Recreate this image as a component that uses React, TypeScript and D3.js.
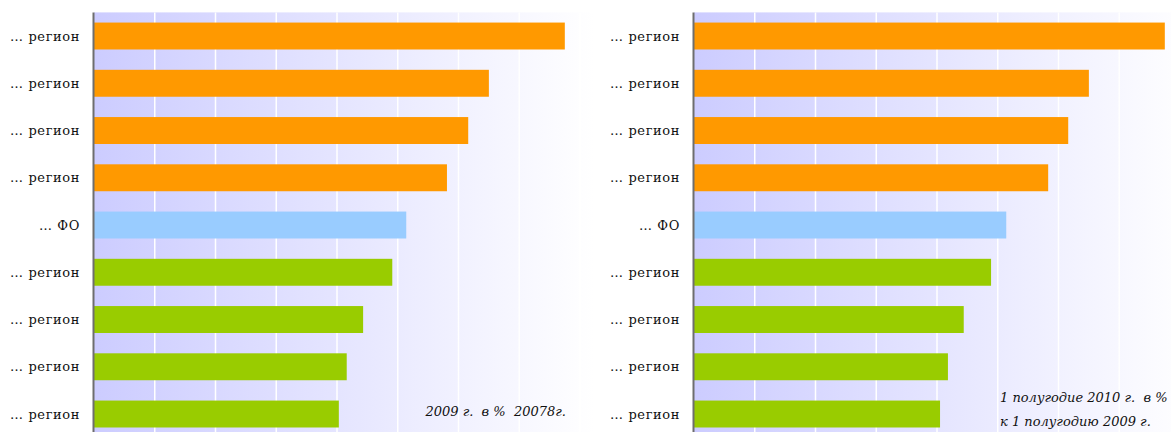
import React, { useRef, useEffect } from 'react';
import * as d3 from 'd3';

// categories (top to bottom)
const categories = [
    '… регион', '… регион', '… регион', '… регион', '… ФО',
    '… регион', '… регион', '… регион', '… регион',
];
const groups = ['top', 'top', 'top', 'top', 'fo', 'low', 'low', 'low', 'low'];

// values (arbitrary units, grid step = 10)
const valuesLeft = [77.5, 65.0, 61.6, 58.1, 51.4, 49.1, 44.3, 41.6, 40.3];
const valuesRight = [77.5, 65.0, 61.6, 58.3, 51.4, 48.9, 44.4, 41.8, 40.5];

const gridTicks = [10, 20, 30, 40, 50, 60, 70, 80];

const noteLeft = ['2009 г.  в %  20078г.'];
const noteRight = ['1 полугодие 2010 г.  в %', 'к 1 полугодию 2009 г.'];

const colors: Record<string, string> = { top: '#ff9900', fo: '#99ccff', low: '#99cc00' };

const W = 1171;
const H = 432;

const App: React.FC = () => {
    const svgRef = useRef<SVGSVGElement>(null);

    useEffect(() => {
        if (!svgRef.current) return;
        const svg = d3.select(svgRef.current);
        svg.selectAll('*').remove();

        const defs = svg.append('defs');
        const grad = defs.append('linearGradient')
            .attr('id', 'bg')
            .attr('x1', '0%').attr('x2', '100%')
            .attr('y1', '0%').attr('y2', '0%');
        grad.append('stop').attr('offset', '0%').attr('stop-color', '#ccccff');
        grad.append('stop').attr('offset', '100%').attr('stop-color', '#ffffff');

        const plotW = 500;
        const top = 12.4;
        const bottom = top + 9 * 47.25;

        const drawPanel = (left: number, values: number[], note: string[], noteX: number, noteAnchor: string, noteY: number) => {
            const x = d3.scaleLinear().domain([0, 10]).range([0, 60.75]);
            const y = d3.scaleBand<number>()
                .domain(d3.range(categories.length))
                .range([top, bottom])
                .paddingInner(0.43)
                .paddingOuter(0.215);

            const g = svg.append('g').attr('transform', `translate(${left},0)`);

            g.append('rect')
                .attr('x', 0).attr('y', top)
                .attr('width', plotW).attr('height', bottom - top)
                .attr('fill', 'url(#bg)');

            g.selectAll('line.grid')
                .data(gridTicks)
                .join('line')
                .attr('class', 'grid')
                .attr('x1', d => x(d)).attr('x2', d => x(d))
                .attr('y1', top).attr('y2', bottom)
                .attr('stroke', '#ffffff')
                .attr('stroke-width', 1.5);

            g.selectAll('rect.bar')
                .data(values)
                .join('rect')
                .attr('class', 'bar')
                .attr('x', 0)
                .attr('y', (_, i) => y(i)!)
                .attr('width', d => x(d))
                .attr('height', y.bandwidth())
                .attr('fill', (_, i) => colors[groups[i]]);

            g.selectAll('text.cat')
                .data(categories)
                .join('text')
                .attr('class', 'cat')
                .attr('x', -14)
                .attr('y', (_, i) => y(i)! + y.bandwidth() / 2)
                .attr('dy', '0.35em')
                .attr('text-anchor', 'end')
                .attr('font-family', 'DejaVu Serif')
                .attr('font-size', 13)
                .attr('letter-spacing', 0.6)
                .attr('fill', '#111')
                .text(d => d);

            g.append('line')
                .attr('x1', -0.5).attr('x2', -0.5)
                .attr('y1', top).attr('y2', bottom)
                .attr('stroke', '#6e6e6e')
                .attr('stroke-width', 2);

            note.forEach((t, i) => {
                g.append('text')
                    .attr('x', noteX)
                    .attr('y', noteY + i * 24)
                    .attr('text-anchor', noteAnchor)
                    .attr('font-family', 'DejaVu Serif')
                    .attr('font-style', 'italic')
                    .attr('font-size', 13)
                    .attr('fill', '#111')
                    .style('white-space', 'pre')
                    .text(t);
            });
        };

        drawPanel(94, valuesLeft, noteLeft, 472, 'end', 416);
        drawPanel(694, valuesRight, noteRight, 306, 'start', 402);
    }, []);

    return (
        <svg
            ref={svgRef}
            width={W}
            height={H}
            style={{ position: 'absolute', left: 0, top: 0, background: '#ffffff' }}
        />
    );
};

export default App;
